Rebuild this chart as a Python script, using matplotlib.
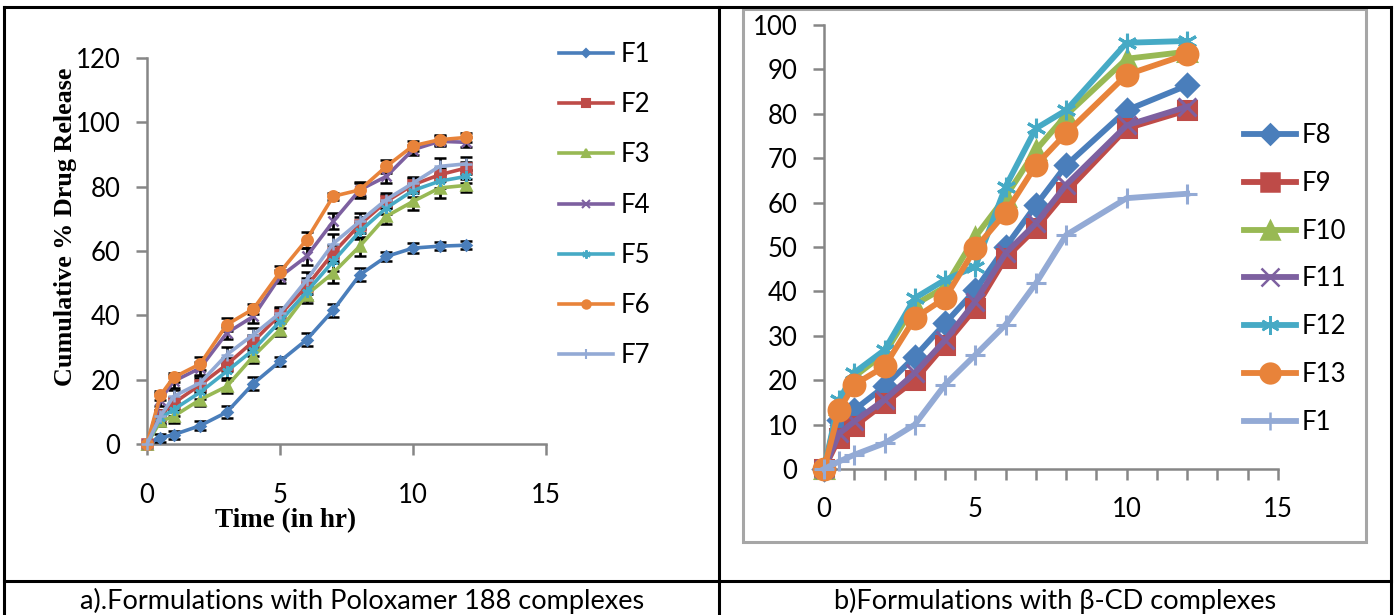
import matplotlib
matplotlib.use("Agg")
import matplotlib.pyplot as plt
from matplotlib.patches import Rectangle
from matplotlib.lines import Line2D

# ---------------- data ----------------
time_a = [0, 0.5, 1, 2, 3, 4, 5, 6, 7, 8, 9, 10, 11, 12]
F1a = [0, 1.9, 2.9, 5.7, 9.9, 18.8, 25.7, 32.4, 41.6, 52.6, 58.3, 60.9, 61.5, 61.8]
F2a = [0, 9.1, 12.7, 18.4, 24.7, 31.9, 40.2, 49.0, 59.4, 68.2, 75.4, 80.6, 83.7, 85.8]
F3a = [0, 7.0, 8.6, 13.8, 17.9, 27.3, 35.5, 46.4, 53.2, 61.5, 70.8, 75.4, 79.6, 80.4]
F4a = [0, 13.8, 19.5, 23.6, 34.5, 39.7, 52.0, 58.3, 69.2, 79.0, 83.2, 91.5, 94.1, 93.8]
F5a = [0, 8.1, 10.7, 16.1, 22.6, 29.3, 38.1, 47.3, 56.8, 66.1, 73.4, 78.8, 81.7, 83.2]
F6a = [0, 15.1, 20.7, 24.9, 37.1, 42.0, 53.4, 63.5, 77.0, 79.0, 86.3, 92.7, 94.6, 95.3]
F7a = [0, 8.6, 14.8, 19.0, 27.8, 34.0, 40.7, 51.0, 62.3, 69.2, 76.0, 81.1, 86.3, 87.1]

E1a = [0, 1.2, 1.2, 1.5, 1.8, 2.0, 1.5, 2.0, 2.0, 2.0, 1.5, 1.5, 1.3, 1.3]
E2a = [0, 1.5, 2.0, 2.0, 2.0, 2.0, 2.0, 2.5, 2.5, 2.5, 2.0, 2.0, 2.0, 2.0]
E3a = [0, 1.5, 2.0, 2.0, 2.0, 2.0, 2.0, 2.5, 3.0, 3.0, 2.5, 2.5, 3.0, 2.0]
E4a = [0, 2.0, 2.0, 2.0, 2.0, 2.0, 2.0, 2.5, 2.5, 2.0, 2.0, 1.5, 1.5, 1.5]
E5a = [0, 2.0, 2.0, 2.0, 2.0, 2.0, 2.0, 2.5, 3.0, 2.5, 2.0, 2.0, 2.0, 2.0]
E6a = [0, 1.5, 1.5, 2.0, 2.0, 1.5, 2.0, 2.5, 1.0, 2.5, 2.0, 1.5, 1.5, 1.5]
E7a = [0, 2.0, 2.0, 2.0, 2.5, 2.0, 2.0, 2.5, 3.0, 2.5, 2.0, 2.0, 2.5, 2.0]

names_a = ["F1", "F2", "F3", "F4", "F5", "F6", "F7"]

time_b = [0, 0.5, 1, 2, 3, 4, 5, 6, 7, 8, 10, 12]
F8b = [0, 11.0, 13.3, 18.6, 25.3, 32.8, 40.3, 50.0, 59.4, 68.4, 80.8, 86.4]
F9b = [0, 7.0, 9.6, 14.8, 20.0, 28.0, 36.2, 47.5, 54.2, 62.4, 76.7, 80.8]
F10b = [0, 14.5, 20.8, 26.0, 37.0, 41.0, 52.3, 61.3, 71.8, 79.7, 92.4, 94.0]
F11b = [0, 8.0, 10.7, 15.6, 21.6, 29.0, 37.7, 48.6, 55.3, 64.0, 77.4, 81.6]
F12b = [0, 15.5, 21.7, 26.8, 38.5, 42.6, 45.6, 63.6, 76.7, 80.8, 96.0, 96.4]
F13b = [0, 13.3, 19.0, 23.1, 34.0, 38.5, 49.7, 57.7, 68.4, 75.6, 88.8, 93.4]
F1b = [0, 1.7, 3.2, 5.8, 10.0, 19.0, 25.7, 32.5, 41.8, 52.7, 61.0, 62.0]
names_b = ["F8", "F9", "F10", "F11", "F12", "F13", "F1"]

xticks = [0, 5, 10, 15]
yticks_a = [0, 20, 40, 60, 80, 100, 120]
yticks_b = [0, 10, 20, 30, 40, 50, 60, 70, 80, 90, 100]
caption_a = "a).Formulations with Poloxamer 188 complexes"
caption_b = "b)Formulations with β-CD complexes"
ylabel_a = "Cumulative % Drug Release"
xlabel_a = "Time (in hr)"

# ---------------- style ----------------
W, H = 1398, 615
fig = plt.figure(figsize=(W / 100, H / 100), dpi=100)
TICKFONT = "Lato"
SERIF = "Liberation Serif"
AXC = "#868686"
FS = 18.5

c_blue = "#4A7EBB"
c_red = "#BE4B48"
c_green = "#98B954"
c_purple = "#7D60A0"
c_teal = "#46AAC5"
c_orange = "#E8833A"
c_lblue = "#93AAD5"

colors_a = [c_blue, c_red, c_green, c_purple, c_teal, c_orange, c_lblue]
markers_a = ["D", "s", "^", "x", (6, 2, 0), "o", "+"]
msize_a = [5.5, 6.5, 7.5, 6.5, 7.5, 7.5, 8.5]
colors_b = [c_blue, c_red, c_green, c_purple, c_teal, c_orange, c_lblue]
markers_b = ["D", "s", "^", "x", (6, 2, 0), "o", "+"]
msize_b = [11, 13, 13, 13, 14, 15, 14]


def fx(px):
    return px / W


def fy(py):
    return 1 - py / H


def style_axes(ax):
    for s in ["top", "right"]:
        ax.spines[s].set_visible(False)
    for s in ["left", "bottom"]:
        ax.spines[s].set_color(AXC)
        ax.spines[s].set_linewidth(1.8)
    ax.tick_params(colors=AXC, width=1.8, length=8, labelcolor="black")
    for lbl in ax.get_xticklabels() + ax.get_yticklabels():
        lbl.set_fontfamily(TICKFONT)
        lbl.set_fontsize(FS)


# ---------------- left chart ----------------
axA = fig.add_axes([fx(147), fy(444), fx(546) - fx(147), fy(58) - fy(444)])
ys_a = [F1a, F2a, F3a, F4a, F5a, F6a, F7a]
es_a = [E1a, E2a, E3a, E4a, E5a, E6a, E7a]
for i, (y, e) in enumerate(zip(ys_a, es_a)):
    axA.errorbar(time_a, y, yerr=e, color=colors_a[i], ecolor="black",
                 elinewidth=2.0, capsize=4, capthick=2.0, lw=2.6,
                 marker=markers_a[i], ms=msize_a[i], mew=1.8,
                 label=names_a[i], clip_on=False, zorder=3 + i * 0.01)
axA.set_xlim(0, 15)
axA.set_ylim(0, 120)
axA.set_xticks(xticks)
axA.set_yticks(yticks_a)
style_axes(axA)
axA.tick_params(axis="y", pad=11)
axA.tick_params(axis="x", pad=20)

handles_a = [Line2D([], [], color=colors_a[i], lw=2.6, marker=markers_a[i],
                    ms=msize_a[i] * 0.8, mew=1.5) for i in range(7)]
legA = fig.legend(handles_a, names_a, loc="upper left",
                  bbox_to_anchor=(fx(536), fy(19)), frameon=False,
                  prop={"family": TICKFONT, "size": FS}, handlelength=2.1,
                  labelspacing=0.98, handletextpad=0.3)

fig.text(fx(66), fy(227), ylabel_a, rotation=90, ha="center", va="center",
         family=SERIF, weight="bold", fontsize=18.8)
fig.text(fx(286), fy(521), xlabel_a, ha="center", va="center",
         family=SERIF, weight="bold", fontsize=19.5)

# ---------------- right chart ----------------
axB = fig.add_axes([fx(824), fy(469), fx(1278) - fx(824), fy(25) - fy(469)])
ys_b = [F8b, F9b, F10b, F11b, F12b, F13b, F1b]
for i, y in enumerate(ys_b):
    axB.plot(time_b, y, color=colors_b[i], lw=4.2, marker=markers_b[i],
             ms=msize_b[i], mew=2.2, label=names_b[i], clip_on=False,
             zorder=3 + i * 0.01)
axB.set_xlim(0, 15)
axB.set_ylim(0, 100)
axB.set_xticks(xticks)
axB.set_xticks(range(0, 16), minor=True)
axB.set_yticks(yticks_b)
style_axes(axB)
axB.tick_params(axis="x", which="minor", colors=AXC, width=1.8, length=8)
axB.tick_params(axis="y", pad=11)
axB.tick_params(axis="x", pad=12)

handles_b = [Line2D([], [], color=colors_b[i], lw=4.2, marker=markers_b[i],
                    ms=msize_b[i] * 0.95, mew=1.8) for i in range(7)]
legB = fig.legend(handles_b, names_b, loc="upper left",
                  bbox_to_anchor=(fx(1221), fy(100)), frameon=False,
                  prop={"family": TICKFONT, "size": FS}, handlelength=2.0,
                  labelspacing=0.885, handletextpad=0.25)

# ---------------- table borders & captions ----------------
fig.add_artist(Rectangle((fx(743), fy(542)), fx(1366) - fx(743), fy(9) - fy(542),
                         transform=fig.transFigure, fill=False,
                         edgecolor="#A6A6A6", lw=2.2))
bk = dict(color="black", lw=2.2, transform=fig.transFigure)
fig.add_artist(Line2D([fx(4), fx(1391)], [fy(7), fy(7)], **bk))
fig.add_artist(Line2D([fx(4), fx(4)], [fy(7), fy(620)], **bk))
fig.add_artist(Line2D([fx(1391), fx(1391)], [fy(7), fy(620)], **bk))
fig.add_artist(Line2D([fx(719), fx(719)], [fy(7), fy(620)], **bk))
fig.add_artist(Line2D([fx(4), fx(1391)], [fy(581), fy(581)], **bk))

fig.text(fx(362), fy(601), caption_a, ha="center", va="center",
         family=TICKFONT, fontsize=19.5)
fig.text(fx(1055), fy(601), caption_b, ha="center", va="center",
         family=TICKFONT, fontsize=19.5)

fig.savefig("out.png", dpi=100)
